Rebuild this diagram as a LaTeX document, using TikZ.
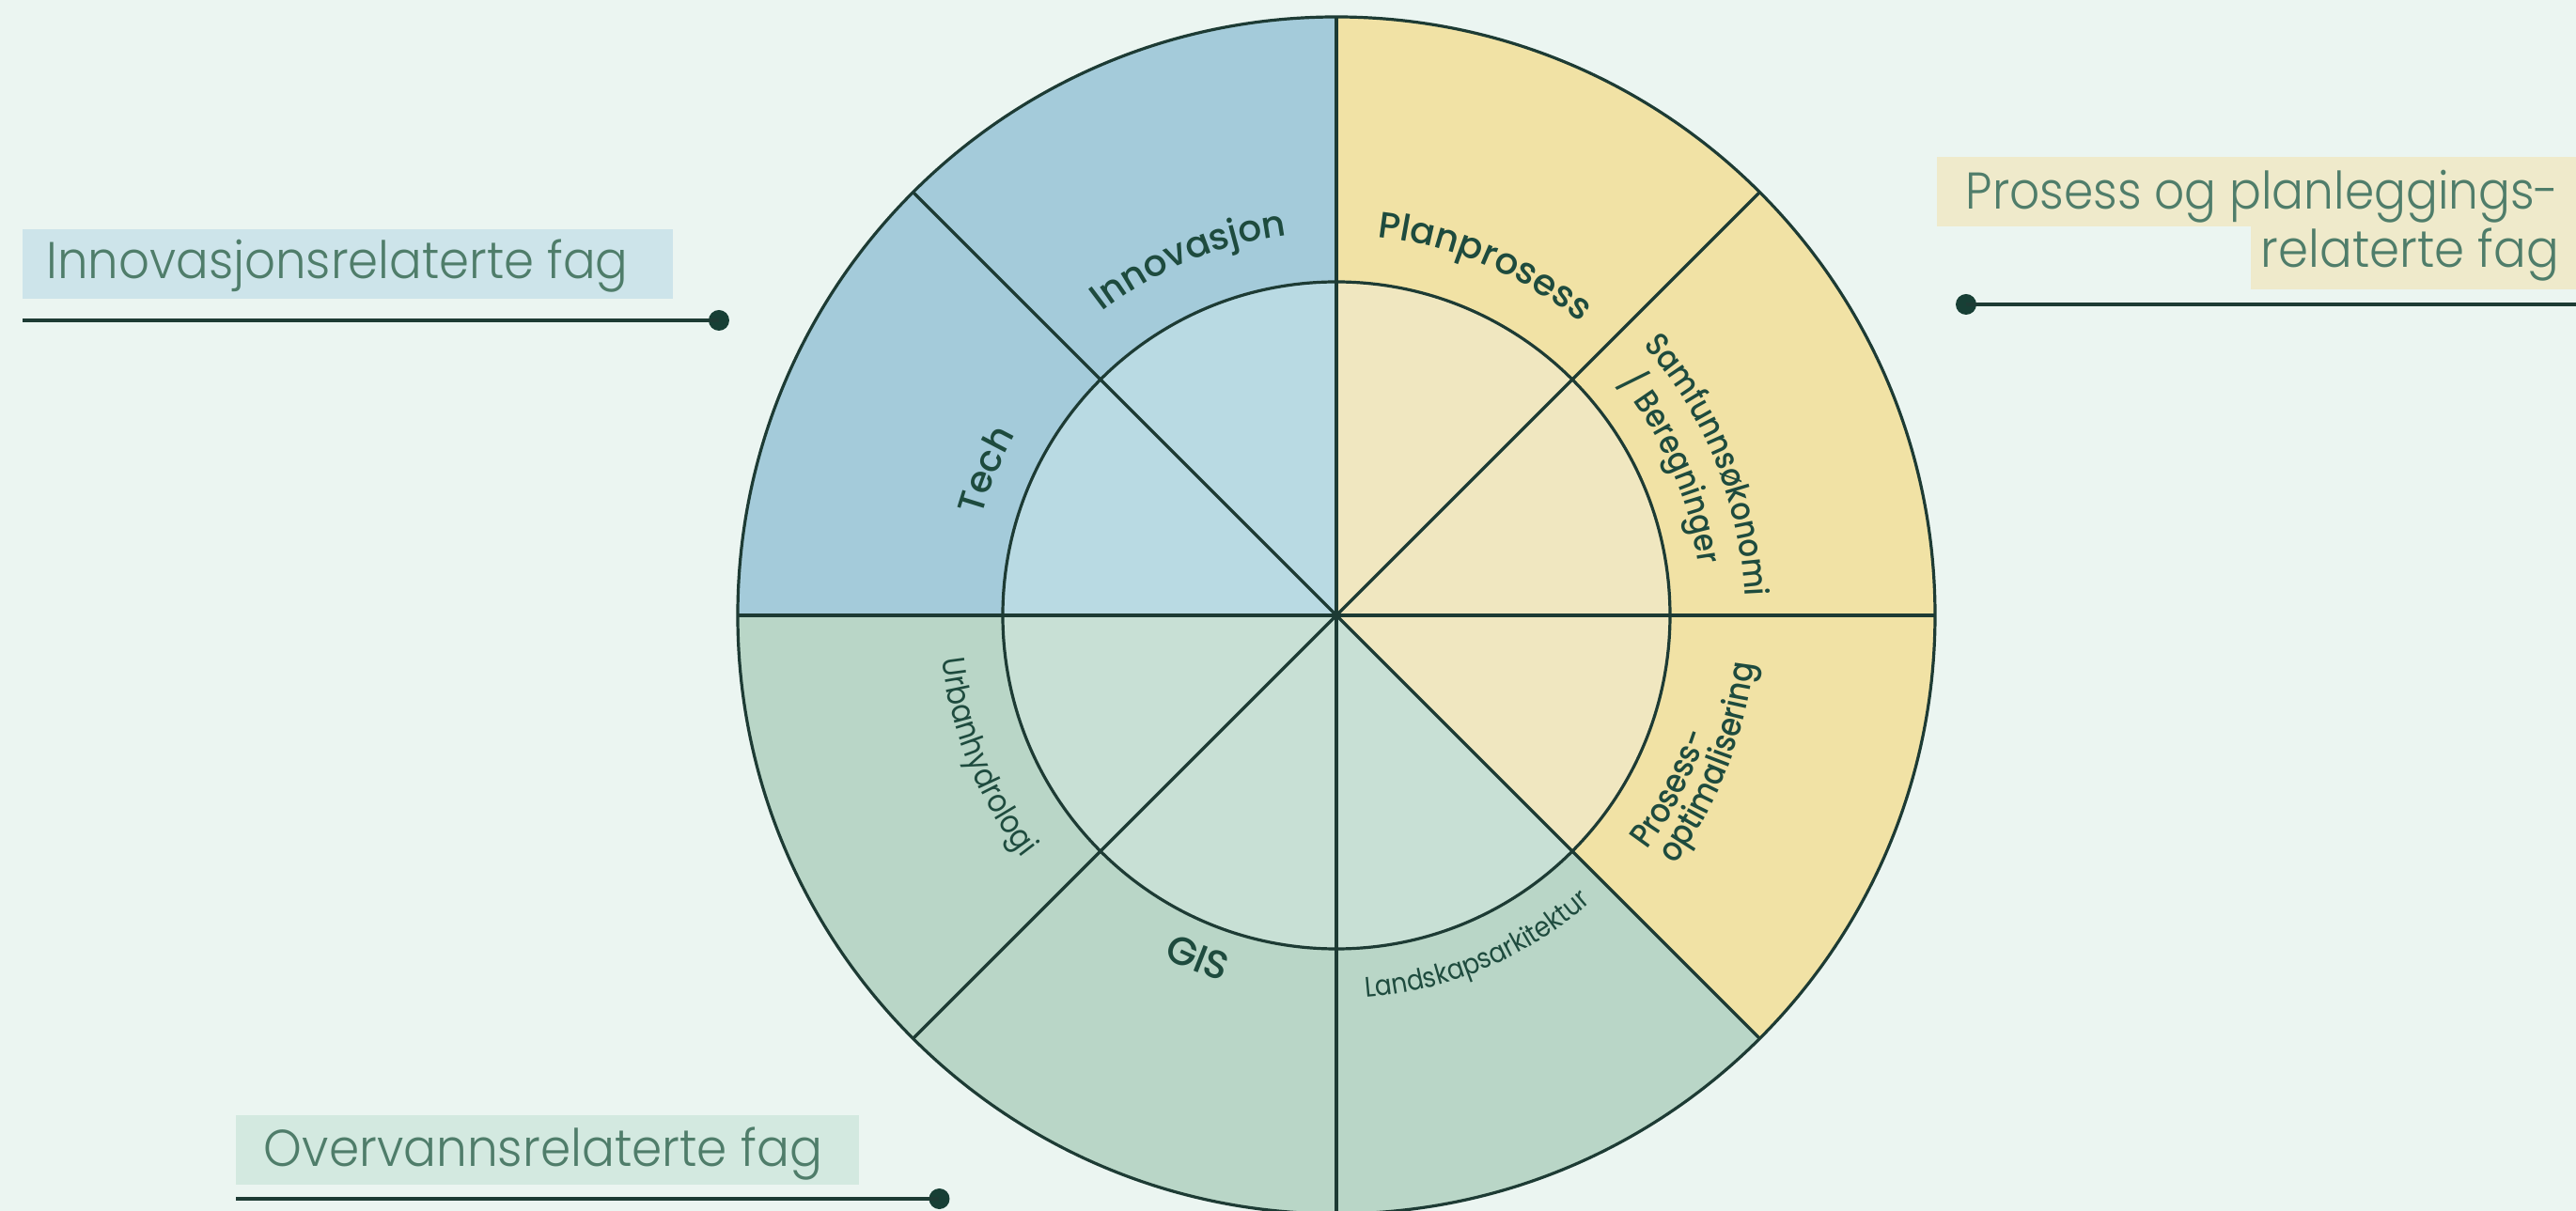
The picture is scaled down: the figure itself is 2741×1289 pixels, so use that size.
\documentclass[tikz,border=0pt]{standalone}
\usepackage{fontspec}
\usepackage{graphicx}
\usetikzlibrary{decorations.text}
\IfFontExistsTF{Poppins Medium}{\newfontfamily\medfont{Poppins Medium}[FakeStretch=0.88]\newfontfamily\medwide{Poppins Medium}}{\newfontfamily\medfont{Poppins}[FakeStretch=0.88]\newfontfamily\medwide{Poppins}}
\IfFontExistsTF{Poppins Light}{\newfontfamily\lightfont{Poppins Light}}{\newfontfamily\lightfont{Poppins}}
\newfontfamily\regfont{Poppins}[FakeStretch=0.88]
\definecolor{bg}{HTML}{EBF5F1}
\definecolor{bluo}{HTML}{A4CBDA}
\definecolor{blui}{HTML}{B9DAE3}
\definecolor{yelo}{HTML}{F1E2A5}
\definecolor{yeli}{HTML}{F0E7C0}
\definecolor{greo}{HTML}{B9D6C7}
\definecolor{grei}{HTML}{C8E0D5}
\definecolor{edgec}{HTML}{1D3B34}
\definecolor{ctext}{HTML}{1E4B3E}
\definecolor{ltext}{HTML}{4F7D6A}
\definecolor{bbox}{HTML}{CDE4EA}
\definecolor{ybox}{HTML}{EFEACB}
\definecolor{gbox}{HTML}{D3E9E0}
\definecolor{dotc}{HTML}{173F35}
\newcommand\wheelpart[4]{%
  \fill[#3] (#1:637pt) arc[start angle=#1,end angle=#2,radius=637pt] -- (#2:355pt) arc[start angle=#2,end angle=#1,radius=355pt] -- cycle;
  \fill[#4] (0,0) -- (#1:355pt) arc[start angle=#1,end angle=#2,radius=355pt] -- cycle;}
% clockwise text (tops outward): center angle, radius, format, text
\newcommand\cwtext[4]{%
  \path[decorate,decoration={text along path,text align=center,text color=ctext,text={|#3|#4}}]
    ({#1+80}:#2) arc[start angle={#1+80},end angle={#1-80},radius=#2];}
% counterclockwise text (tops toward centre)
\newcommand\ccwtext[4]{%
  \path[decorate,decoration={text along path,text align=center,text color=ctext,text={|#3|#4}}]
    ({#1-80}:#2) arc[start angle={#1-80},end angle={#1+80},radius=#2];}
\tikzset{
  spoke/.style={draw=edgec,line width=3.2pt},
  labelbox/.style={rectangle,inner sep=0pt,outer sep=0pt,anchor=south west},
  sidetext/.style={inner sep=0pt,outer sep=0pt,text=ltext,font=\lightfont\fontsize{55}{62}\selectfont},
  leader/.style={draw=edgec,line width=4pt},
  dotmark/.style={circle,fill=dotc,inner sep=0pt,minimum size=22pt}
}
\begin{document}
\begin{tikzpicture}[x=1pt,y=1pt]
\useasboundingbox (-1422,-634) rectangle (1319,655);
\fill[bg] (-1422,-634) rectangle (1319,655);
\begin{scope}
\clip (-1422,-634) rectangle (1319,655);
\wheelpart{90}{135}{bluo}{blui}
\wheelpart{135}{180}{bluo}{blui}
\wheelpart{180}{225}{greo}{grei}
\wheelpart{225}{270}{greo}{grei}
\wheelpart{270}{315}{greo}{grei}
\wheelpart{315}{360}{yelo}{yeli}
\wheelpart{0}{45}{yelo}{yeli}
\wheelpart{45}{90}{yelo}{yeli}
\draw[spoke] (0,0) circle[radius=637pt];
\draw[spoke] (0,0) circle[radius=355pt];
\draw[spoke] (180:637pt) -- (0:637pt);
\draw[spoke] (90:637pt) -- (270:637pt);
\draw[spoke] (135:637pt) -- (315:637pt);
\draw[spoke] (45:637pt) -- (225:637pt);
\end{scope}
% wheel labels
\cwtext{112.5}{408pt}{\medwide\fontsize{39}{41}\selectfont}{Innovasjon}
\cwtext{67}{405pt}{\medwide\fontsize{39}{41}\selectfont}{Planprosess}
\cwtext{157.5}{392pt}{\medwide\fontsize{39}{41}\selectfont}{Tech}
\cwtext{22}{435pt}{\medfont\fontsize{35}{36}\selectfont}{Samfunnsøkonomi}
\cwtext{23.7}{389pt}{\medfont\fontsize{35}{36}\selectfont}{/ Beregninger}
\ccwtext{-27.4}{414pt}{\medfont\fontsize{36}{36}\selectfont}{Prosess-}
\ccwtext{-21.5}{447pt}{\medfont\fontsize{36}{36}\selectfont}{optimalisering}
\ccwtext{202}{422pt}{\regfont\fontsize{34}{34}\selectfont}{Urbanhydrologi}
\ccwtext{248}{408pt}{\medwide\fontsize{42}{42}\selectfont}{GIS}
\ccwtext{293}{408pt}{\regfont\fontsize{30}{30}\selectfont}{Landskapsarkitektur}
% side label 1
\node[labelbox,fill=bbox,minimum width=691.5pt,minimum height=74pt] (box1) at (-1397.5,337) {};
\node[sidetext,anchor=base west] (txt1) at (-1372.5,358) {\resizebox{619pt}{\height}{Innovasjonsrelaterte fag}};
\coordinate (l1s) at (-1397.5,314);
\node[dotmark] (d1) at (-657,314) {};
\draw[leader] (l1s) -- (d1.center);
% side label 2
\node[labelbox,fill=ybox,minimum width=680.5pt,minimum height=74pt] (box2a) at (638.5,414) {};
\node[labelbox,fill=ybox,minimum width=346.4pt,minimum height=67.5pt] (box2b) at (972.6,347) {};
\node[sidetext,anchor=base east] (txt2a) at (1301,432) {\resizebox{631pt}{\height}{Prosess og planleggings-}};
\node[sidetext,anchor=base east] (txt2b) at (1301,370) {\resizebox{317pt}{\height}{relaterte fag}};
\node[dotmark] (d2) at (670,331) {};
\coordinate (l2e) at (1319,331);
\draw[leader] (d2.center) -- (l2e);
% side label 3
\node[labelbox,fill=gbox,minimum width=662.5pt,minimum height=74pt] (box3) at (-1170.5,-606) {};
\node[sidetext,anchor=base west] (txt3) at (-1141,-586) {\resizebox{594pt}{\height}{Overvannsrelaterte fag}};
\coordinate (l3s) at (-1170.5,-621);
\node[dotmark] (d3) at (-422.5,-621) {};
\draw[leader] (l3s) -- (d3.center);
\end{tikzpicture}
\end{document}
